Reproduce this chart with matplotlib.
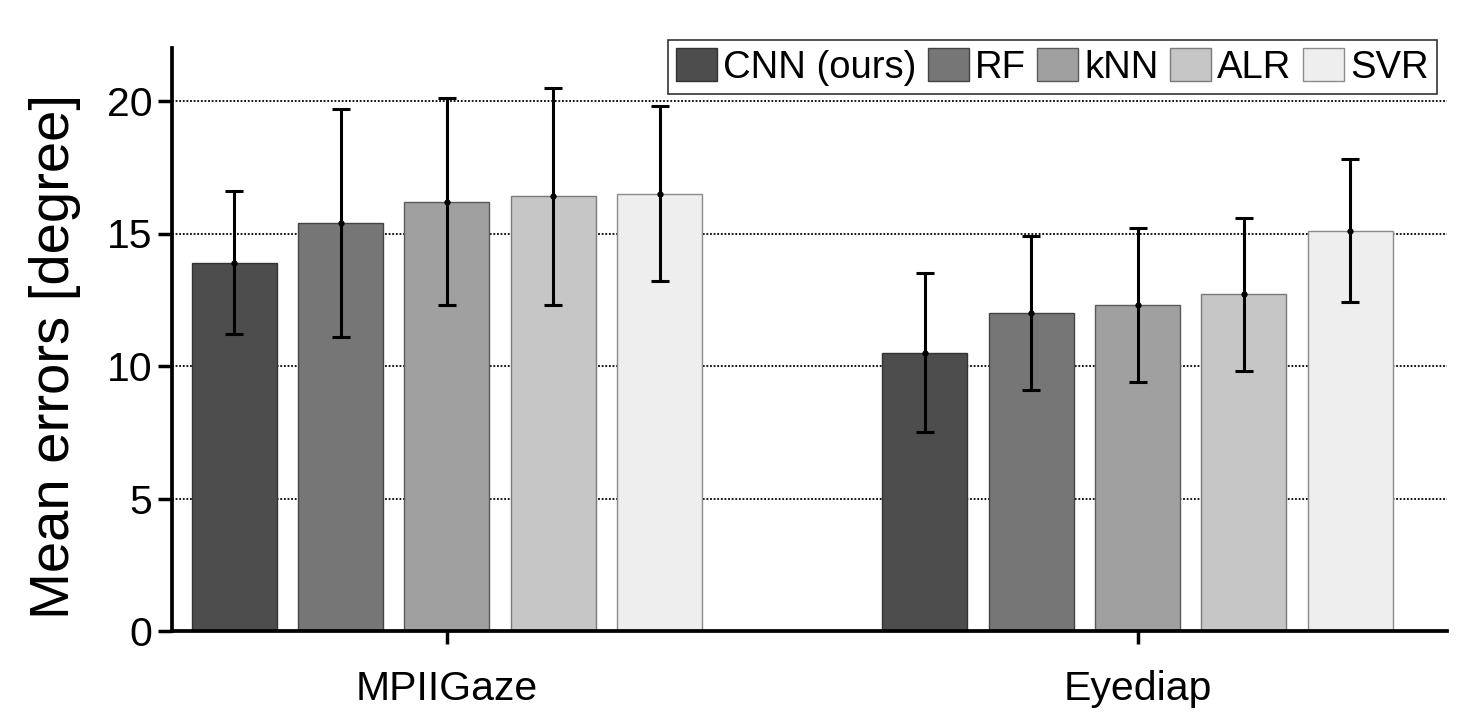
import matplotlib
matplotlib.use("Agg")
import matplotlib.pyplot as plt
import numpy as np

plt.rcParams['font.family'] = ['Liberation Sans', 'DejaVu Sans']

datasets = ["MPIIGaze", "Eyediap"]
methods = ["CNN (ours)", "RF", "kNN", "ALR", "SVR"]
mean_mpii = [13.9, 15.4, 16.2, 16.4, 16.5]
err_mpii = [2.7, 4.3, 3.9, 4.1, 3.3]
mean_eyediap = [10.5, 12.0, 12.3, 12.7, 15.1]
err_eyediap = [3.0, 2.9, 2.9, 2.9, 2.7]
yticks = [0, 5, 10, 15, 20]

colors = ["#4d4d4d", "#767676", "#a0a0a0", "#c6c6c6", "#eeeeee"]
edges = ["#333333", "#444444", "#5a5a5a", "#7a7a7a", "#8a8a8a"]

fig = plt.figure(figsize=(14.72, 7.22), dpi=100)
ax = fig.add_axes([172/1472, 1-631/722, (1447-172)/1472, (631-48)/722])

x = np.arange(len(datasets))
spacing = 0.154
width = 0.123
means = np.array([mean_mpii, mean_eyediap])
errs = np.array([err_mpii, err_eyediap])
for i, m in enumerate(methods):
    pos = x + (i - 2) * spacing
    ax.bar(pos, means[:, i], width, color=colors[i], edgecolor=edges[i],
           linewidth=1.0, label=m, zorder=2)
    ax.errorbar(pos, means[:, i], yerr=errs[:, i], fmt='o', color='black',
                markersize=3.5, elinewidth=2.2, capsize=6.5, capthick=2.2, zorder=3)

ax.set_xlim(-0.398, 1.448)
ax.set_ylim(0, 22)
ax.set_yticks(yticks)
ax.set_xticks(x)
ax.set_xticklabels(datasets)
ax.tick_params(axis='y', labelsize=29.5, length=10, width=2.5, pad=4)
ax.tick_params(axis='x', labelsize=29.5, length=9, width=2.5, pad=19)
ax.set_ylabel("Mean errors [degree]", fontsize=40.5)
ax.yaxis.set_label_coords(-0.0715, 0.47)

for s in ['top', 'right']:
    ax.spines[s].set_visible(False)
for s in ['left', 'bottom']:
    ax.spines[s].set_linewidth(2.7)
    ax.spines[s].set_zorder(4)

ax.yaxis.grid(True, linestyle=(0, (1, 1)), color='black', linewidth=1.3, zorder=0)
ax.set_axisbelow(True)

leg = ax.legend(loc='upper right', ncol=5, fontsize=27.5, frameon=True, fancybox=False,
                edgecolor='black', handlelength=1.07, handleheight=0.92,
                handletextpad=0.16, columnspacing=0.3, borderpad=0.22,
                borderaxespad=0)
leg.get_frame().set_linewidth(1.2)
leg.set_bbox_to_anchor((1437/1472, 1-40/722), transform=fig.transFigure)

fig.savefig("out.png", dpi=100)
